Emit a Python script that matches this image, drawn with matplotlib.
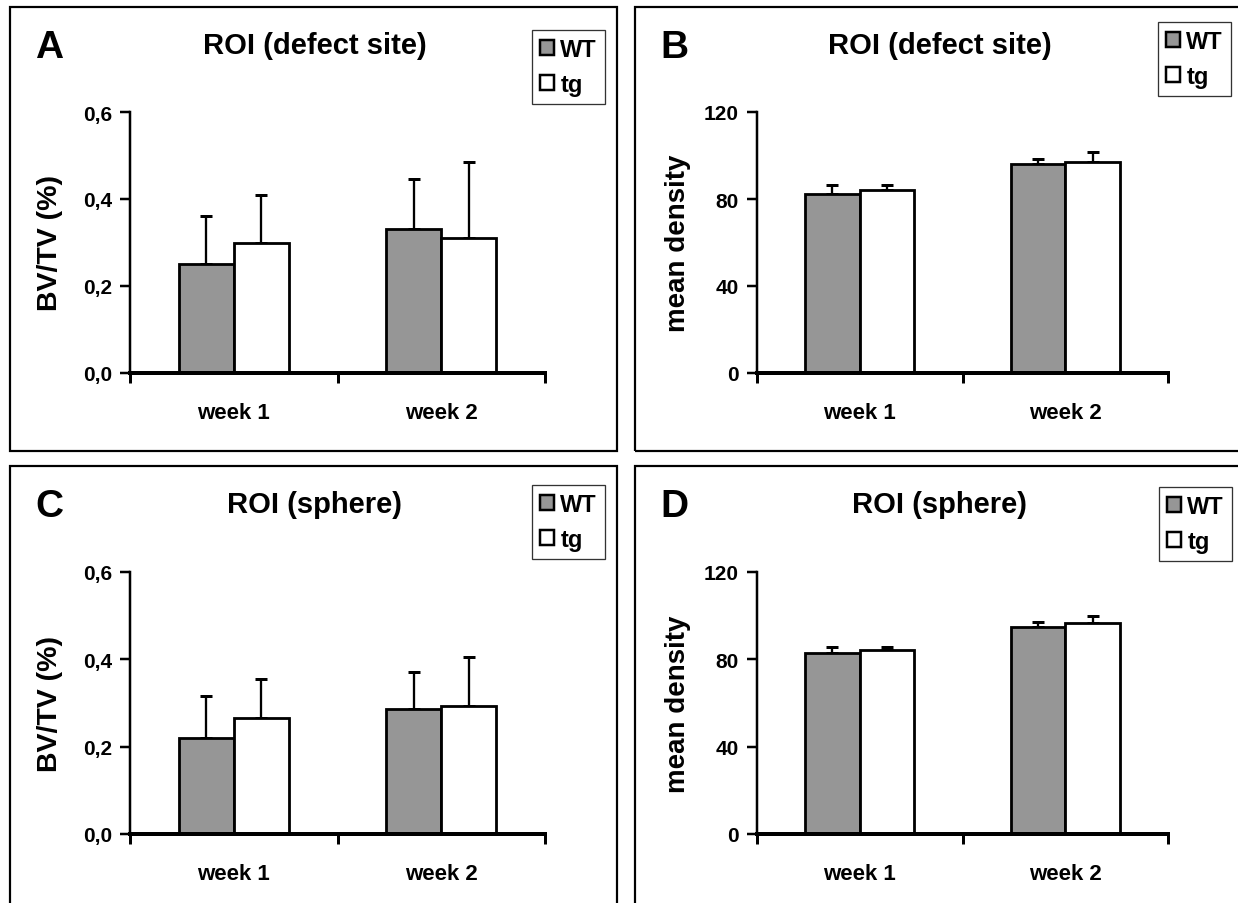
import numpy as np
import matplotlib
matplotlib.use('Agg')
import matplotlib.pyplot as plt
from matplotlib.patches import Rectangle, Patch

plt.rcParams['font.family'] = 'Liberation Sans'
plt.rcParams['font.weight'] = 'bold'

# Data
weeks = ['week 1', 'week 2']
groups = ['WT', 'tg']

bvtv_defect_wt = [0.25, 0.33]
bvtv_defect_wt_err = [0.11, 0.115]
bvtv_defect_tg = [0.30, 0.31]
bvtv_defect_tg_err = [0.11, 0.175]

dens_defect_wt = [82.5, 96.0]
dens_defect_wt_err = [4.0, 2.5]
dens_defect_tg = [84.0, 97.0]
dens_defect_tg_err = [2.5, 4.5]

bvtv_sphere_wt = [0.22, 0.287]
bvtv_sphere_wt_err = [0.095, 0.085]
bvtv_sphere_tg = [0.265, 0.292]
bvtv_sphere_tg_err = [0.09, 0.113]

dens_sphere_wt = [83.0, 95.0]
dens_sphere_wt_err = [2.5, 2.0]
dens_sphere_tg = [84.5, 96.5]
dens_sphere_tg_err = [1.0, 3.5]

bvtv_ticks = [0.0, 0.2, 0.4, 0.6]
bvtv_ticklabels = ['0,0', '0,2', '0,4', '0,6']
dens_ticks = [0, 40, 80, 120]
dens_ticklabels = ['0', '40', '80', '120']

W, H = 1238, 904
fig = plt.figure(figsize=(W / 100, H / 100), dpi=100)

wt_color = '#969696'
px = 0.72  # points per pixel


def fx(x):
    return x / W


def fy(y):
    return 1 - y / H


def panel(box, ax_px, letter, title, ylabel, ylabel_size, ylabel_pad,
          wt, wt_err, tg, tg_err, ymax, ticks, ticklabels, legend_px):
    x0, y0, x1, y1 = box
    fig.patches.append(Rectangle((fx(x0), fy(y1)), fx(x1 - x0), (y1 - y0) / H,
                                 transform=fig.transFigure, fill=False,
                                 edgecolor='black', linewidth=2.2 * px))
    ax0, ay0, ax1, ay1 = ax_px
    ax = fig.add_axes([fx(ax0), fy(ay1), fx(ax1 - ax0), (ay1 - ay0) / H])
    bw = 0.266
    xc = np.arange(len(weeks)) + 0.5
    ax.bar(xc - bw / 2, wt, bw, color=wt_color, edgecolor='black',
           linewidth=2.8 * px, zorder=2)
    ax.bar(xc + bw / 2, tg, bw, color='white', edgecolor='black',
           linewidth=2.8 * px, zorder=2)
    for vals, errs, off in [(wt, wt_err, -bw / 2), (tg, tg_err, bw / 2)]:
        ax.errorbar(xc + off, vals, yerr=[np.zeros(len(vals)), errs], fmt='none',
                    ecolor='black', elinewidth=2.3 * px, capsize=4.6,
                    capthick=3 * px, zorder=1)
    ax.set_xlim(0, len(weeks))
    ax.set_ylim(0, ymax)
    ax.spines['top'].set_visible(False)
    ax.spines['right'].set_visible(False)
    ax.spines['bottom'].set_linewidth(4 * px)
    ax.spines['left'].set_linewidth(2.5 * px)
    ax.set_xticks([0, 1, 2])
    ax.set_xticklabels([])
    ax.tick_params(axis='x', which='major', direction='out', length=7,
                   width=3 * px)
    ax.set_xticks(xc, minor=True)
    ax.set_xticklabels(weeks, minor=True, fontsize=16, fontweight='bold')
    ax.tick_params(axis='x', which='minor', length=0, pad=21)
    ax.set_yticks(ticks)
    ax.set_yticklabels(ticklabels, fontsize=15, fontweight='bold')
    ax.tick_params(axis='y', direction='out', length=7, width=2.5 * px, pad=6)
    ax.set_ylabel(ylabel, fontsize=ylabel_size, fontweight='bold',
                  labelpad=ylabel_pad)
    ax.set_facecolor('none')

    fig.text(fx(x0 + 39), fy(y0 + 40), letter, fontsize=28, fontweight='bold',
             ha='center', va='center')
    fig.text(fx((ax0 + ax1) / 2 - 23), fy(y0 + 38), title, fontsize=21,
             fontweight='bold', ha='center', va='center')

    lx0, ly0 = legend_px
    handles = [Patch(facecolor=wt_color, edgecolor='black', linewidth=2.5 * px),
               Patch(facecolor='white', edgecolor='black', linewidth=2.5 * px)]
    leg = fig.legend(handles, groups, loc='upper left',
                     bbox_to_anchor=(fx(lx0), fy(ly0)),
                     bbox_transform=fig.transFigure, fancybox=False,
                     framealpha=1, edgecolor='#333333', fontsize=17,
                     handlelength=0.6, handleheight=0.6, handletextpad=0.25,
                     borderpad=0.35, labelspacing=0.5, borderaxespad=0)
    leg.get_frame().set_linewidth(1.3 * px)
    return ax


panel((10, 8, 617, 452), (130, 113, 545, 374), 'A', 'ROI (defect site)',
      'BV/TV (%)', 20.5, 14, bvtv_defect_wt, bvtv_defect_wt_err,
      bvtv_defect_tg, bvtv_defect_tg_err, 0.6, bvtv_ticks, bvtv_ticklabels,
      (532, 31))
panel((635, 8, 1240, 452), (757, 113, 1168, 374), 'B', 'ROI (defect site)',
      'mean density', 20, 9, dens_defect_wt, dens_defect_wt_err,
      dens_defect_tg, dens_defect_tg_err, 120, dens_ticks, dens_ticklabels,
      (1158, 23))
panel((10, 467, 617, 910), (130, 573, 545, 835), 'C', 'ROI (sphere)',
      'BV/TV (%)', 20.5, 14, bvtv_sphere_wt, bvtv_sphere_wt_err,
      bvtv_sphere_tg, bvtv_sphere_tg_err, 0.6, bvtv_ticks, bvtv_ticklabels,
      (532, 486))
panel((635, 467, 1240, 910), (757, 573, 1168, 835), 'D', 'ROI (sphere)',
      'mean density', 20, 9, dens_sphere_wt, dens_sphere_wt_err,
      dens_sphere_tg, dens_sphere_tg_err, 120, dens_ticks, dens_ticklabels,
      (1159, 488))

fig.savefig('out.png', dpi=100)
